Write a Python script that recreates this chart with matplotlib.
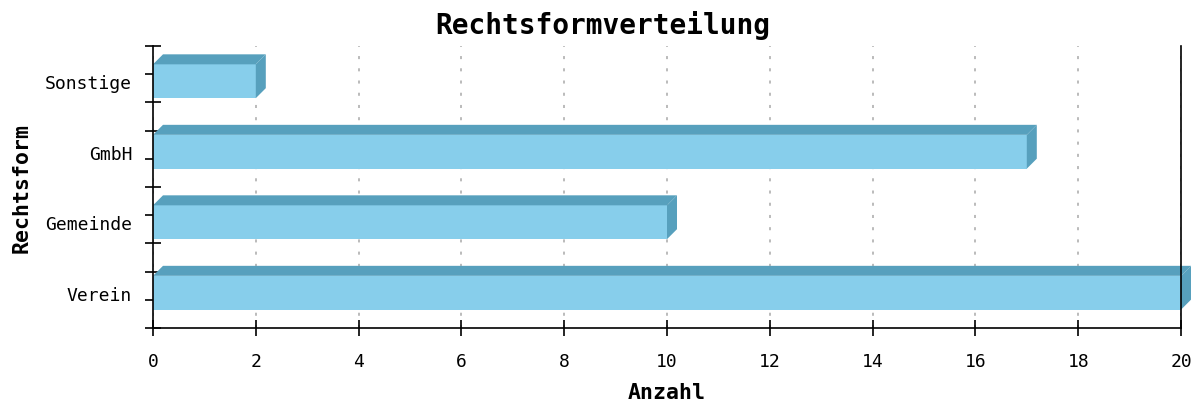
import numpy as np
import matplotlib
matplotlib.use("Agg")
from matplotlib import pyplot as plt
from matplotlib.patches import Polygon

# data
categories = ["Verein", "Gemeinde", "GmbH", "Sonstige"]
counts = [20, 10, 17, 2]
x_ticks = [0, 2, 4, 6, 8, 10, 12, 14, 16, 18, 20]

front_color = "#87ceeb"
shade_color = "#57a0bd"
mono = "DejaVu Sans Mono"

fig = plt.figure(figsize=(11.98, 4.06), dpi=100)
ax = fig.add_axes([153 / 1198, 77 / 406, 1028 / 1198, 282 / 406])

ax.set_xlim(0, 20)
ax.set_ylim(0, len(categories))

centers = np.arange(len(categories)) + 0.5
bar_h = 0.48
# depth of the 3D effect, ~10 px in each direction
dx = 10 / (1028 / 20)
dy = 10 / (282 / len(categories))

ax.barh(centers, counts, height=bar_h, color=front_color, zorder=3, clip_on=False)
for c, v in zip(centers, counts):
    top = c + bar_h / 2
    bot = c - bar_h / 2
    top_face = Polygon([(0, top), (v, top), (v + dx, top + dy), (dx, top + dy)],
                       closed=True, facecolor=shade_color, edgecolor="none",
                       zorder=3, clip_on=False)
    side_face = Polygon([(v, top), (v + dx, top + dy), (v + dx, bot + dy), (v, bot)],
                        closed=True, facecolor=shade_color, edgecolor="none",
                        zorder=3, clip_on=False)
    ax.add_patch(top_face)
    ax.add_patch(side_face)

ax.set_axisbelow(True)
ax.grid(axis="x", color="#a8a8a8", linestyle=(0, (2, 6)), linewidth=1.1)
ax.grid(axis="y", visible=False)

ax.set_xticks(x_ticks)
ax.set_xticklabels([str(t) for t in x_ticks], fontfamily=mono, fontsize=13)
ax.tick_params(axis="x", direction="inout", length=12, width=1.2, pad=11)

ax.set_yticks(np.linspace(0, len(categories), 11))
ax.set_yticklabels([])
ax.tick_params(axis="y", which="major", direction="inout", length=12, width=1.2)
ax.set_yticks(centers, minor=True)
ax.set_yticklabels(categories, minor=True, fontfamily=mono, fontsize=13)
ax.tick_params(axis="y", which="minor", length=0, pad=15)

for side in ["left", "bottom", "right"]:
    ax.spines[side].set_linewidth(1.2)
    ax.spines[side].set_zorder(5)
ax.spines["top"].set_visible(False)

ax.set_xlabel("Anzahl", fontfamily=mono, fontweight="bold", fontsize=15.5)
ax.xaxis.set_label_coords(0.5, -0.227)
ax.xaxis.label.set_va("center")
ax.set_ylabel("Rechtsform", fontfamily=mono, fontweight="bold", fontsize=15.5)
ax.yaxis.set_label_coords(-0.1274, 0.5)
ax.yaxis.label.set_va("center")

fig.text(0.503, 1 - 25 / 406, "Rechtsformverteilung", ha="center", va="center",
         fontfamily=mono, fontweight="bold", fontsize=20)

fig.savefig("out.png", dpi=100)
